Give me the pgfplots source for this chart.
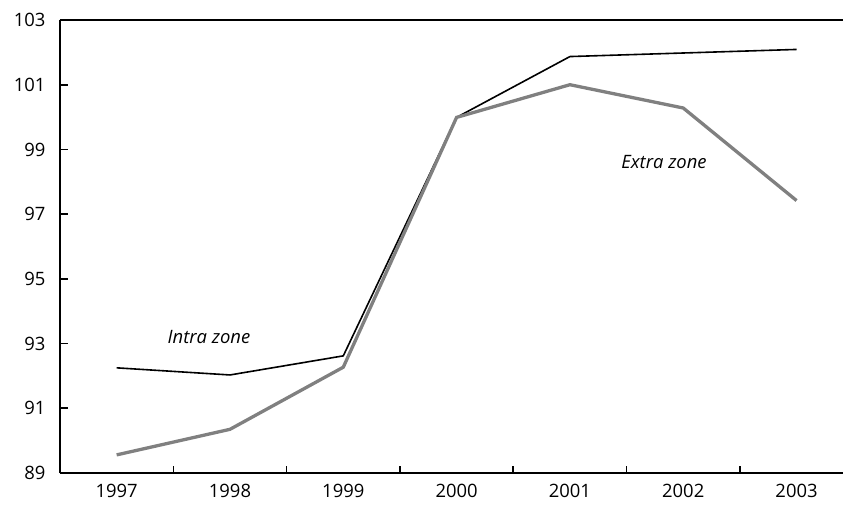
\documentclass[border=0pt]{standalone}
\usepackage{fontspec}
\setmainfont{Open Sans}
\usepackage{pgfplots}
\pgfplotsset{compat=1.18}
\definecolor{extragray}{RGB}{128,128,128}
\begin{document}
\begin{tikzpicture}
\begin{axis}[
  name=ax,
  scale only axis,
  width=783bp, height=453bp,
  xmin=-0.5, xmax=6.41,
  ymin=89, ymax=103,
  axis x line*=bottom,
  axis y line*=left,
  axis line style={line width=2.4bp, black},
  xtick={0,...,6},
  xticklabels={1997,1998,1999,2000,2001,2002,2003},
  minor xtick={0.5,1.5,...,5.5},
  major x tick style={draw=none},
  minor x tick style={line width=1.6bp, black},
  minor tick length=7bp,
  ytick={89,91,...,103},
  y tick style={line width=1.6bp, black},
  major tick length=8bp,
  tick align=inside,
  /pgf/number format/assume math mode=true,
  yticklabel style={font=\fontsize{18.5}{20}\selectfont, xshift=-11bp},
  xticklabel style={font=\fontsize{18.5}{20}\selectfont, yshift=-8bp},
  clip=false,
]
\draw[line width=1.3bp] (rel axis cs:0,1) -- (rel axis cs:1,1);
\addplot[black, line width=1.6bp, line join=miter] coordinates {
  (0,92.25) (1,92.03) (2,92.62) (3,99.99) (4,101.87) (5,101.98) (6,102.09)};
\addplot[extragray, line width=3.3bp, line join=miter] coordinates {
  (0,89.56) (1,90.35) (2,92.27) (3,99.99) (4,101.0) (5,100.28) (6,97.42)};
\node[font=\itshape\fontsize{18.5}{20}\selectfont] at (axis cs:0.815,93.2) {Intra zone};
\node[font=\itshape\fontsize{18.5}{20}\selectfont] at (axis cs:4.83,98.61) {Extra zone};
\end{axis}
\pgfresetboundingbox
\path[use as bounding box] ([shift={(-60bp,-42bp)}]ax.south west) rectangle ([shift={(0bp,20bp)}]ax.north east);
\end{tikzpicture}
\end{document}
